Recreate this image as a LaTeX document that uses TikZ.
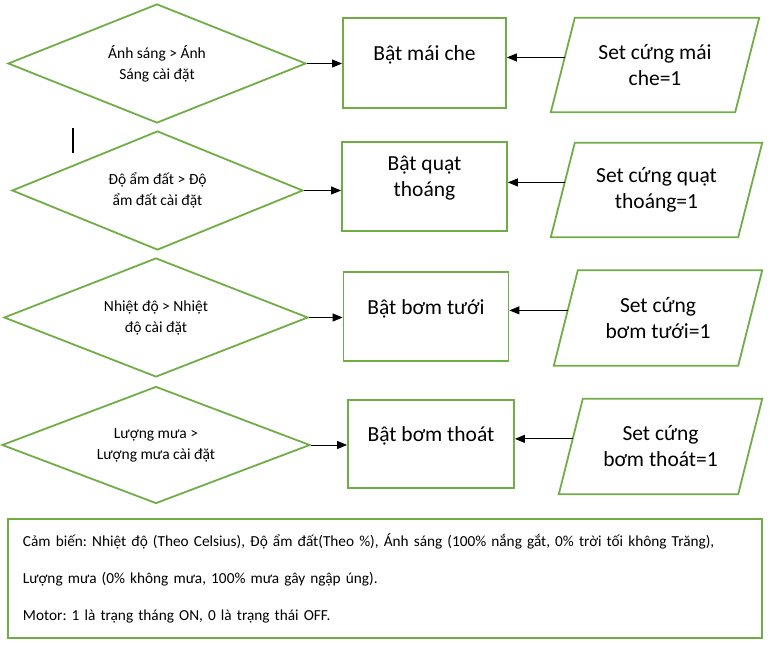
\documentclass[tikz,border=0pt]{standalone}
\usepackage{fontspec}
\setmainfont{Carlito}
\usetikzlibrary{shapes.geometric,arrows.meta,calc}
\definecolor{grn}{RGB}{112,173,71}
\frenchspacing
\begin{document}
\begin{tikzpicture}[x=1pt,y=-1pt,
  gline/.style={draw=grn,line width=1.8pt,line join=miter},
  dia/.style={diamond,aspect=3,gline,inner sep=0pt,align=center,font=\fontsize{15.5}{21}\selectfont},
  rbox/.style={rectangle,gline,inner sep=0pt},
  btext/.style={align=center,inner sep=0pt,font=\fontsize{21.5}{26}\selectfont},
  pbox/.style={rectangle,inner sep=0pt,align=center,font=\fontsize{21.5}{26}\selectfont},
  arr/.style={draw=black,line width=0.9pt,-{Triangle[length=10pt,width=8pt]}},
  notebox/.style={rectangle,gline,inner xsep=15pt,inner ysep=0pt,align=left,
    font=\fontsize{15.3}{37}\selectfont}]
\useasboundingbox (0,0) rectangle (773,647);

% diamonds
\node[dia,minimum width=298pt,minimum height=119pt] (d1) at (157,63.5) {Ánh sáng > Ánh\\Sáng cài đặt};
\node[dia,minimum width=291pt,minimum height=119pt] (d2) at (157.5,190.5) {Độ ẩm đất > Độ\\ẩm đất cài đặt};
\node[dia,minimum width=304pt,minimum height=119pt] (d3) at (156,317.5) {Nhiệt độ > Nhiệt\\độ cài đặt};
\node[dia,minimum width=308pt,minimum height=117pt] (d4) at (156,445) {Lượng mưa >\\Lượng mưa cài đặt};

% rectangles
\node[rbox,minimum width=163pt,minimum height=90pt] (r1) at (424.5,63) {};
\node[rbox,minimum width=165pt,minimum height=89pt] (r2) at (424.5,186.5) {};
\node[rbox,minimum width=165pt,minimum height=89pt] (r3) at (426,316.5) {};
\node[rbox,minimum width=166pt,minimum height=88pt] (r4) at (431,444) {};
\node[btext] (l1) at ($(r1.center)+(0,-8)$) {Bật mái che};
\node[btext] (l2) at ($(r2.center)+(0,-8)$) {Bật quạt\\thoáng};
\node[btext] (l3) at ($(r3.center)+(0,-8)$) {Bật bơm tưới};
\node[btext] (l4) at ($(r4.center)+(0,-8)$) {Bật bơm thoát};

% parallelograms
\node[pbox,minimum width=208pt,minimum height=94pt] (p1) at (655,65) {Set cứng mái\\che=1};
\node[pbox,minimum width=211pt,minimum height=94pt] (p2) at (656.5,190) {Set cứng quạt\\thoáng=1};
\node[pbox,minimum width=208pt,minimum height=95pt] (p3) at (658,318) {Set cứng\\bơm tưới=1};
\node[pbox,minimum width=203pt,minimum height=95pt] (p4) at (660.5,446.5) {Set cứng\\bơm thoát=1};
\foreach \p in {p1,p2,p3,p4}{
  \draw[gline] ([xshift=24pt]\p.north west) -- (\p.north east) -- ([xshift=-24pt]\p.south east) -- (\p.south west) -- cycle;
}

% arrows diamond -> rectangle
\draw[arr] (d1.east) -- (d1.east -| r1.west);
\draw[arr] (d2.east) -- (d2.east -| r2.west);
\draw[arr] (d3.east) -- (d3.east -| r3.west);
\draw[arr] (d4.east) -- (d4.east -| r4.west);

% arrows parallelogram -> rectangle
\foreach \p/\r in {p1/r1,p2/r2,p3/r3,p4/r4}{
  \coordinate (s\p) at ($(\p.south west)!0.58!([xshift=24pt]\p.north west)$);
  \draw[arr] (s\p) -- (s\p -| \r.east);
}

% stray cursor mark
\draw[line width=1.3pt] (73,128) -- (73,153);

% note box
\node[notebox,minimum width=754pt,minimum height=119pt,text width=724pt] (note) at (385,578.5)
 {Cảm biến: Nhiệt độ (Theo Celsius), Độ ẩm đất(Theo \%), Ánh sáng (100\% nắng gắt, 0\% trời tối không Trăng),\\
  Lượng mưa (0\% không mưa, 100\% mưa gây ngập úng).\\
  Motor: 1 là trạng tháng ON, 0 là trạng thái OFF.\\[-6pt]};
\end{tikzpicture}
\end{document}
